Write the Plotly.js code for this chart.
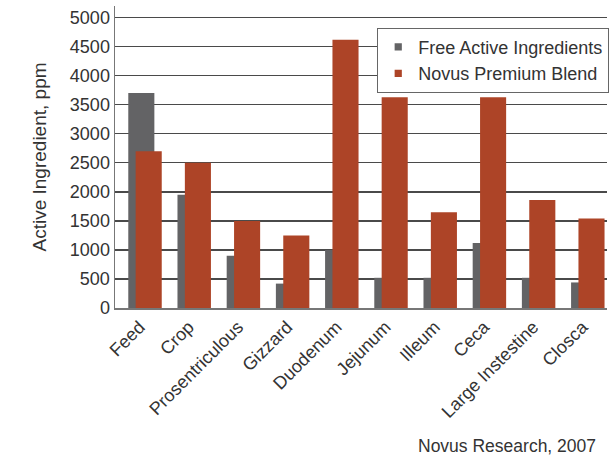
<!DOCTYPE html>
<html><head><meta charset="utf-8">
<script src="https://cdn.plot.ly/plotly-3.0.1.min.js"></script>
<style>html,body{margin:0;padding:0;background:#fff}#chart{width:615px;height:461px}</style>
</head><body><div id="chart"></div>
<script>
const categories = ["Feed","Crop","Prosentriculous","Gizzard","Duodenum","Jejunum","Illeum","Ceca","Large Instestine","Closca"];
const freeActive = [3700,1950,900,420,1000,520,520,1120,520,440];
const novusBlend = [2700,2500,1500,1250,4620,3630,1650,3630,1860,1540];
const seriesNames = ["Free Active Ingredients","Novus Premium Blend"];
const yTicks = [0,500,1000,1500,2000,2500,3000,3500,4000,4500,5000];

const font = "Liberation Sans, Arial, sans-serif";
const traces = [
  {type:"bar", x:categories, y:freeActive, name:seriesNames[0], marker:{color:"#636365"}, width:0.53, offset:-0.23},
  {type:"bar", x:categories, y:novusBlend, name:seriesNames[1], marker:{color:"#AD4427"}, width:0.53, offset:-0.08}
];
const layout = {
  width:615, height:461,
  margin:{l:115, r:8, t:6, b:153, autoexpand:false},
  barmode:"overlay",
  paper_bgcolor:"#fff", plot_bgcolor:"#fff",
  font:{family:font, color:"#333", size:18},
  showlegend:true,
  legend:{x:0.533, y:0.928, xanchor:"left", yanchor:"top", bgcolor:"#fff", bordercolor:"#666", borderwidth:1,
          font:{size:18, color:"#333"}, tracegroupgap:0, itemwidth:30},
  xaxis:{type:"category", showgrid:false, showline:true, linecolor:"#777", linewidth:1.5, ticks:"",
         tickangle:-45, tickfont:{size:18, color:"#333"}, range:[-0.5,9.5], zeroline:false, automargin:false},
  yaxis:{range:[0,5200], tickvals:yTicks, showgrid:true, gridcolor:"#4a4a4a", gridwidth:1.3, showline:true,
         linecolor:"#777", linewidth:1.5, ticks:"", zeroline:false, tickfont:{size:18, color:"#333"}, automargin:false,
         title:{text:"Active Ingredient, ppm", font:{size:19, color:"#333"}, standoff:18}},
  annotations:[{text:"Novus Research, 2007", xref:"paper", yref:"paper", x:0.982, y:-0.457, xanchor:"right", yanchor:"middle",
                showarrow:false, font:{size:17.5, color:"#333"}}]
};
Plotly.newPlot("chart", traces, layout, {displayModeBar:false, staticPlot:true}).then(function(gd){
  gd.querySelectorAll(".legend .legendpoints path").forEach(function(p){
    p.setAttribute("transform", (p.getAttribute("transform")||"") + " scale(0.6)");
  });
});
</script></body></html>
